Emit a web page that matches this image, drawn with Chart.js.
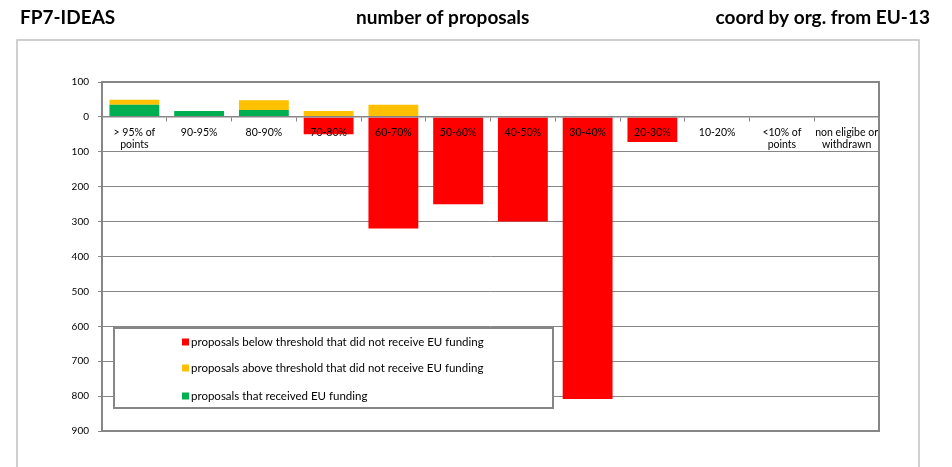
<!DOCTYPE html>
<html>
<head>
<meta charset="utf-8">
<script src="https://cdn.jsdelivr.net/npm/chart.js@4/dist/chart.umd.min.js"></script>
<style>
  html, body { margin: 0; padding: 0; background: #fff; }
  #wrap { width: 952px; height: 467px; position: relative; }
</style>
</head>
<body>
<div id="wrap"><canvas id="proposals-chart"></canvas></div>
<script>
const categories = [['> 95% of', 'points'], '90-95%', '80-90%', '70-80%', '60-70%', '50-60%',
    '40-50%', '30-40%', '20-30%', '10-20%', ['<10% of', 'points'], ['non eligibe or', 'withdrawn']];
const funded = [35, 17, 20, 0, 0, 0, 0, 0, 0, 0, 0, 0];
const aboveNotFunded = [14, 0, 28, 17, 35, 0, 0, 0, 0, 0, 0, 0];
const belowNotFunded = [0, 0, 0, 50, 320, 250, 300, 808, 72, 0, 0, 0];
const yTicks = [100, 0, -100, -200, -300, -400, -500, -600, -700, -800, -900];

const gray = '#868686';
const font = 'Lato, "Liberation Sans", sans-serif';

// frame, titles and the legend box the way the spreadsheet drew them
const decor = {
    id: 'decor',
    beforeDraw(chart) {
        const c = chart.ctx;
        c.save();
        c.fillStyle = '#fff';
        c.fillRect(0, 0, chart.width, chart.height);
        c.strokeStyle = '#c0c0c0';
        c.lineWidth = 1.5;
        c.strokeRect(17, 40, 902, 460);
        c.fillStyle = '#000';
        c.font = 'bold 19px ' + font;
        c.textBaseline = 'middle';
        c.textAlign = 'left';
        c.fillText('FP7-IDEAS', 20, 18);
        c.fillText('number of proposals', 356, 18);
        c.textAlign = 'right';
        c.fillText('coord by org. from EU-13', 930, 18);
        c.restore();
    },
    afterDraw(chart) {
        const c = chart.ctx;
        const a = chart.chartArea;
        c.save();
        c.strokeStyle = gray;
        c.lineWidth = 2;
        c.strokeRect(a.left, a.top, a.width, a.height);

        // legend
        c.fillStyle = '#fff';
        c.fillRect(114, 328, 439, 80);
        c.strokeRect(114, 328, 439, 80);
        const rows = [342, 368, 396];
        const items = chart.data.datasets.slice().reverse();
        c.font = '11.5px ' + font;
        c.textBaseline = 'middle';
        c.textAlign = 'left';
        items.forEach((ds, i) => {
            c.fillStyle = ds.backgroundColor;
            c.fillRect(182, rows[i] - 3.5, 7, 7);
            c.fillStyle = '#000';
            c.fillText(ds.label, 191, rows[i]);
        });
        c.restore();
    }
};

const ctx = document.getElementById('proposals-chart').getContext('2d');
new Chart(ctx, {
    type: 'bar',
    data: {
        labels: categories,
        datasets: [{
            label: 'proposals that received EU funding',
            data: funded,
            backgroundColor: '#00B050'
        }, {
            label: 'proposals above threshold that did not receive EU funding',
            data: aboveNotFunded,
            backgroundColor: '#FFC000'
        }, {
            label: 'proposals below threshold that did not receive EU funding',
            data: belowNotFunded.map(v => -v),
            backgroundColor: '#FF0000'
        }]
    },
    options: {
        responsive: true,
        maintainAspectRatio: false,
        animation: false,
        devicePixelRatio: 1,
        layout: { padding: { left: 0, top: 82, right: 73, bottom: 36 } },
        datasets: {
            bar: { barPercentage: 0.77, categoryPercentage: 1, borderWidth: 0 }
        },
        plugins: {
            legend: { display: false },
            tooltip: { enabled: false }
        },
        scales: {
            x: {
                stacked: true,
                position: { y: 0 },
                afterFit: s => { s.height = 0; },
                grid: { drawOnChartArea: false, offset: true, tickLength: 4, color: gray },
                border: { color: gray, width: 1.5, z: 1 },
                ticks: { z: 1, color: '#000', font: { family: font, size: 10.5 }, padding: 5, maxRotation: 0, autoSkip: false }
            },
            y: {
                stacked: true,
                min: -900,
                max: 100,
                afterFit: s => { s.width = 102; },
                afterBuildTicks: s => { s.ticks = yTicks.map(v => ({ value: v })); },
                grid: { color: gray, lineWidth: 1, tickLength: 4 },
                border: { display: false },
                ticks: {
                    color: '#000',
                    font: { family: font, size: 10 },
                    padding: 9,
                    callback: v => Math.abs(v)
                }
            }
        }
    },
    plugins: [decor]
});
</script>
</body>
</html>
